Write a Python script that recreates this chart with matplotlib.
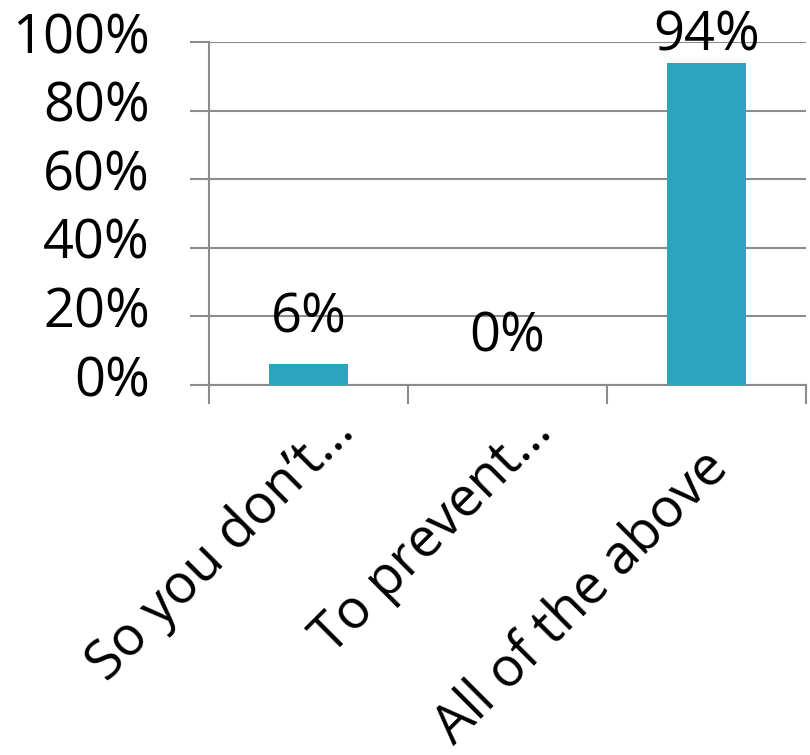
import matplotlib
matplotlib.use("Agg")
import matplotlib.pyplot as plt
from matplotlib.ticker import FixedLocator

categories = ["So you don\u2019t\u2026", "To prevent\u2026", "All of the above"]
values = [6, 0, 94]
value_labels = ["6%", "0%", "94%"]
yticks = [0, 20, 40, 60, 80, 100]

plt.rcParams["font.family"] = ["Open Sans", "DejaVu Sans"]

fig = plt.figure(figsize=(8.1, 7.55), dpi=100)
ax = fig.add_axes([209 / 810, 1 - 385 / 755, 597 / 810, 343 / 755])

bar_color = "#2CA3BF"
grid_color = "#8C8C8C"
fs = 39

x = list(range(len(categories)))
ax.bar(x, values, width=0.4, color=bar_color, zorder=3)

# value labels: baseline offset (points) above the bar top, as in the original
offsets = [23, 24, 9]
for xi, v, lab, off in zip(x, values, value_labels, offsets):
    ax.annotate(lab, (xi, v), xytext=(0, off), textcoords="offset points",
                ha="center", va="baseline", fontsize=fs, color="black",
                annotation_clip=False)

ax.set_xlim(-0.5, len(categories) - 0.5)
ax.set_ylim(0, 100)
ax.set_yticks(yticks)
ax.yaxis.grid(True, color=grid_color, linewidth=1.5, zorder=0)
ax.tick_params(axis="y", length=14, width=1.5, color=grid_color, labelleft=False)

# y labels sit a little above their gridlines in the original
ytrans = ax.get_yaxis_transform()
for t in yticks:
    ax.annotate(f"{t}%", (0, t), xycoords=ytrans, xytext=(-42.5, -8),
                textcoords="offset points", ha="right", va="baseline",
                fontsize=fs, color="black", annotation_clip=False)

# category labels, rotated 45 deg, anchored at the end of their baseline
xlab_offsets = [(34, -35), (33, -35), (17, -61)]
for xi, cat, (dx, dy) in zip(x, categories, xlab_offsets):
    ax.annotate(cat, (xi, 0), xytext=(dx, dy), textcoords="offset points",
                ha="right", va="baseline", rotation=45, rotation_mode="anchor",
                fontsize=fs, color="black", annotation_clip=False)

ax.set_xticks([])
ax.xaxis.set_minor_locator(FixedLocator([i - 0.5 for i in range(len(categories) + 1)]))
ax.tick_params(axis="x", which="minor", length=14, width=1.5, color=grid_color,
               labelbottom=False)

for s in ["top", "right"]:
    ax.spines[s].set_visible(False)
for s in ["left", "bottom"]:
    ax.spines[s].set_color(grid_color)
    ax.spines[s].set_linewidth(1.5)

fig.savefig("out.png", dpi=100)
